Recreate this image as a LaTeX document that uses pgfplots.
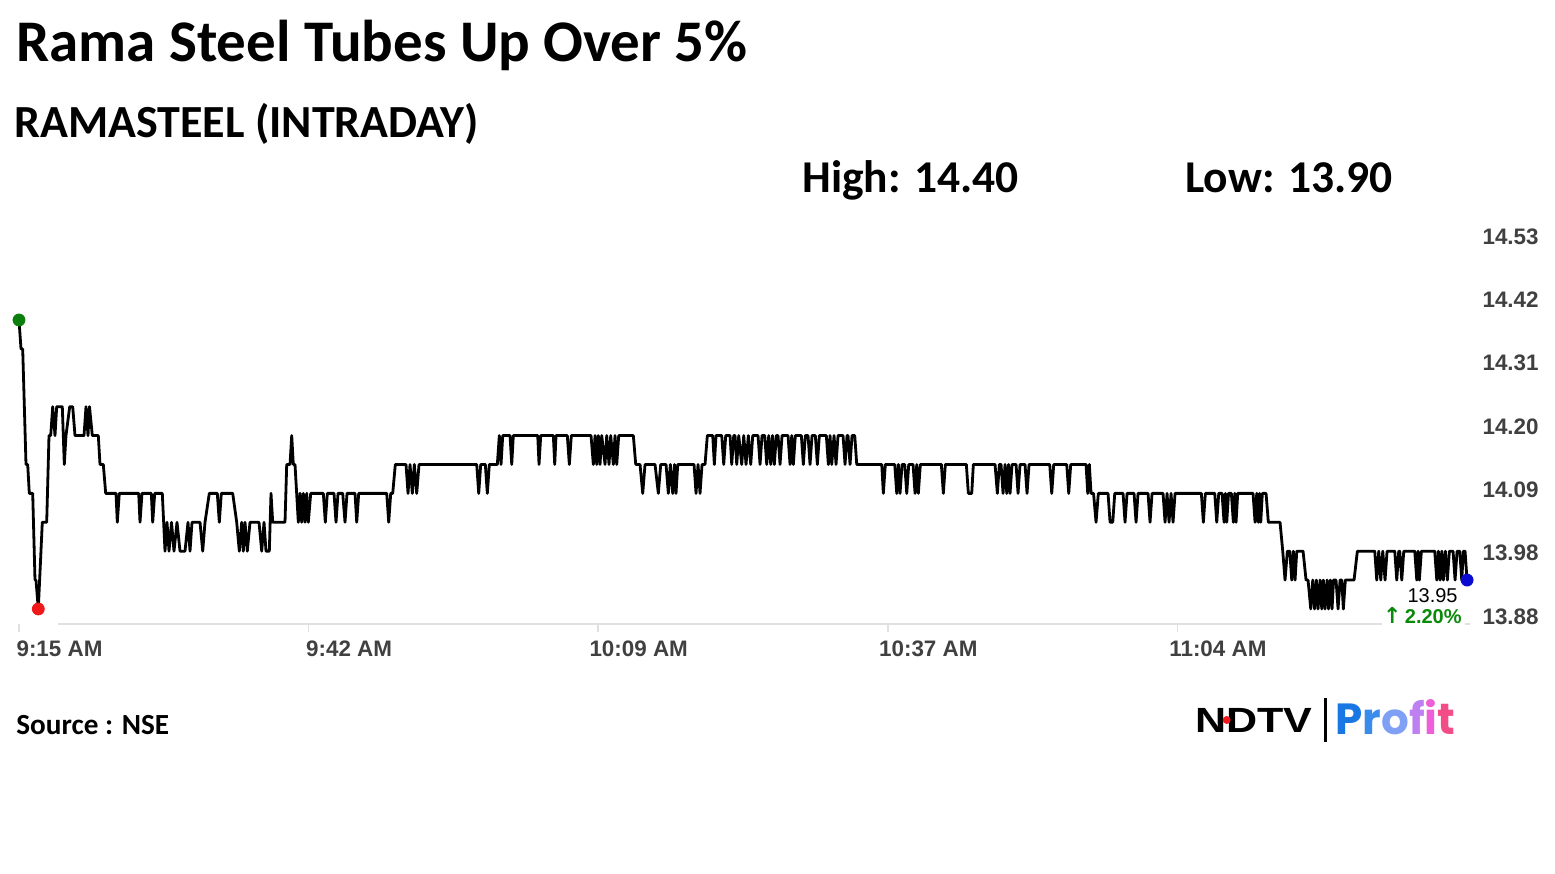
\documentclass[border=0pt]{standalone}
\usepackage{pgfplots}
\pgfplotsset{compat=1.18}
\usepackage{pgfplotstable}
\usepackage{fontspec}
\setmainfont{Carlito}
\newfontfamily\arialf{Liberation Sans}
\newfontfamily\dejaf{DejaVu Sans}
\newfontfamily\popf{Poppins}
\definecolor{tickgray}{HTML}{404040}
\definecolor{axisgray}{HTML}{E0E0E0}
\definecolor{upgreen}{HTML}{0A8A0A}
\definecolor{dotgreen}{HTML}{0B7F0B}
\definecolor{dotred}{HTML}{F01818}
\definecolor{dotblue}{HTML}{0A0AD0}
\definecolor{pA}{HTML}{1877E3}
\definecolor{pB}{HTML}{3A8CEB}
\definecolor{pC}{HTML}{7FA0F5}
\definecolor{pD}{HTML}{BE80F0}
\definecolor{pE}{HTML}{EE5ED8}
\definecolor{pF}{HTML}{F24D86}

% px = horizontal position of the sample on the original time scale (19 = 9:15 AM, 10.627 px per minute)
\pgfplotstableread{
px price
19 14.40
21 14.35
22.7 14.35
26 14.15
27.7 14.15
29.3 14.10
32.7 14.10
35 13.95
36 13.95
38.3 13.90
42.3 14.05
46.7 14.05
49 14.20
50.7 14.20
52.7 14.25
55 14.20
56.7 14.25
62.3 14.25
64.3 14.15
66 14.20
69.7 14.25
72.7 14.25
75 14.20
84 14.20
86 14.25
88 14.20
89.5 14.25
92.3 14.20
98.3 14.20
100 14.15
103.3 14.15
105.7 14.10
116 14.10
117.3 14.05
119.3 14.10
138.7 14.10
140 14.05
142 14.10
151.3 14.10
152.7 14.05
154.7 14.10
162.3 14.10
165 14.00
167 14.05
169 14.00
171.5 14.05
174 14.00
177 14.05
180 14.00
185 14.00
188 14.05
190 14.00
192 14.05
200 14.05
202.7 14.00
205 14.05
209.3 14.10
217.3 14.10
219.3 14.05
221.3 14.10
232.7 14.10
236.7 14.05
239.3 14.00
241.7 14.05
243.3 14.00
245 14.05
247.3 14.00
250 14.05
259 14.05
261.7 14.00
264 14.05
266 14.00
269.3 14.00
271 14.10
272.7 14.05
285 14.05
286.7 14.15
290 14.15
291.7 14.20
293.3 14.15
295 14.15
298.3 14.05
300 14.10
301.7 14.05
303.3 14.10
305 14.05
306.7 14.10
308.3 14.05
310.7 14.10
323.3 14.10
325.3 14.05
327.3 14.10
334 14.10
336 14.05
338 14.10
342.7 14.10
345 14.05
347 14.10
355 14.10
356.7 14.05
358.7 14.10
386.7 14.10
388.7 14.05
390.7 14.10
392.7 14.10
395.3 14.15
406 14.15
408 14.10
410 14.15
412.3 14.10
414.3 14.15
416.7 14.10
419 14.15
476.7 14.15
478.7 14.10
480.7 14.15
485.3 14.15
487.3 14.10
489.3 14.15
497.3 14.15
499.3 14.20
501 14.15
502.7 14.20
510 14.20
511.7 14.15
513.3 14.20
537.7 14.20
539 14.15
540.7 14.20
553.3 14.20
554.7 14.15
556 14.20
567.3 14.20
569.3 14.15
571.3 14.20
591 14.20
593.3 14.15
595 14.20
596.7 14.15
598.3 14.20
600 14.15
601.7 14.20
605 14.15
606.7 14.20
609 14.15
610.7 14.20
613.3 14.15
615 14.20
616.7 14.15
618.7 14.20
633.3 14.20
635.7 14.15
640 14.15
642.7 14.10
645 14.15
655 14.15
658.3 14.10
660.7 14.15
666 14.15
668.3 14.10
670.3 14.15
672.7 14.10
674.5 14.15
676 14.10
677.7 14.15
694 14.15
696 14.10
698 14.15
700 14.10
702 14.15
705 14.15
707.3 14.20
712.7 14.20
714.3 14.15
716 14.20
721.7 14.20
723.7 14.15
725.7 14.20
730 14.20
731.7 14.15
733.7 14.20
735 14.20
736.7 14.15
738.7 14.20
741.7 14.15
743.7 14.20
746 14.15
748.3 14.20
750.7 14.15
752.7 14.20
758 14.20
760 14.15
762 14.20
764.7 14.20
766.7 14.15
768.7 14.20
770.7 14.15
772.5 14.20
774.3 14.15
776.3 14.20
778 14.20
780 14.15
782 14.20
788 14.20
790 14.15
791.7 14.20
793.3 14.15
795.3 14.20
801.3 14.20
803.3 14.15
805.3 14.20
808 14.20
810 14.15
812 14.20
815.3 14.20
817.3 14.15
819.3 14.20
826.3 14.20
828.3 14.15
830 14.20
831.7 14.15
834 14.20
836 14.15
838 14.20
843 14.20
845 14.15
847 14.20
848 14.20
850 14.15
852 14.20
854.7 14.20
856.7 14.15
881.7 14.15
883.3 14.10
885.3 14.15
894.7 14.15
896.7 14.10
898.3 14.15
900 14.10
902 14.15
904.7 14.15
906.7 14.10
908.7 14.15
913 14.15
915 14.10
916.7 14.15
918.3 14.10
920.3 14.15
941.3 14.15
943.3 14.10
945.3 14.15
966.3 14.15
968.3 14.10
971.7 14.10
973.3 14.15
995 14.15
997.3 14.10
999.3 14.15
1001 14.15
1003 14.10
1005 14.15
1006.7 14.10
1008.5 14.15
1010 14.10
1012 14.15
1016 14.15
1018 14.10
1020 14.15
1025 14.15
1027 14.10
1029 14.15
1049.7 14.15
1051.7 14.10
1053.7 14.15
1066.7 14.15
1068.7 14.10
1070.7 14.15
1086 14.15
1087.7 14.10
1089.3 14.15
1091 14.10
1093.5 14.10
1096 14.05
1098.3 14.10
1108 14.10
1110 14.05
1112.7 14.05
1114.7 14.10
1123 14.10
1125 14.05
1127 14.10
1134 14.10
1136 14.05
1138 14.10
1148 14.10
1150 14.05
1152 14.10
1163 14.10
1165 14.05
1167 14.10
1169 14.05
1171 14.10
1173 14.05
1175 14.10
1201.3 14.10
1203.3 14.05
1205.3 14.10
1214.7 14.10
1216.7 14.05
1218.7 14.10
1222 14.10
1224 14.05
1225.3 14.10
1226.7 14.05
1228.5 14.10
1231.3 14.10
1233.3 14.05
1234.7 14.10
1236 14.05
1237.7 14.10
1253 14.10
1255 14.05
1256.7 14.10
1258.3 14.05
1259.5 14.10
1260.7 14.05
1262.3 14.10
1266 14.10
1268.3 14.05
1280 14.05
1282.7 14.00
1285 13.95
1287.3 14.00
1289.7 14.00
1291.7 13.95
1293.3 14.00
1295 13.95
1296.7 14.00
1303 14.00
1306 13.95
1308 13.95
1310.7 13.90
1312.7 13.95
1314.5 13.90
1316.3 13.95
1318 13.90
1320 13.95
1321.7 13.90
1323.3 13.95
1325 13.90
1327 13.95
1328.5 13.90
1330.3 13.95
1332 13.90
1333.5 13.95
1336 13.95
1338 13.90
1340 13.95
1341.7 13.95
1343.3 13.90
1345.3 13.95
1354 13.95
1357.3 14.00
1374.7 14.00
1376.7 13.95
1378.7 14.00
1380.7 13.95
1382.7 14.00
1385 13.95
1387 14.00
1394.7 14.00
1396.7 13.95
1398.7 14.00
1399.7 14.00
1401.7 13.95
1403.7 14.00
1414.7 14.00
1416.7 13.95
1418 14.00
1419.3 13.95
1421.3 14.00
1434.7 14.00
1436.7 13.95
1438.3 14.00
1440 13.95
1441.7 14.00
1443.3 13.95
1445.3 14.00
1447.3 13.95
1449.3 14.00
1453 14.00
1455 13.95
1457 14.00
1459.7 14.00
1461.7 13.95
1463.3 14.00
1465 14.00
1467 13.95
}\pricedata

\begin{document}
\begin{tikzpicture}
\useasboundingbox (0,0) rectangle (777.5pt,437pt);
\begin{scope}[x=0.5pt,y=0.5pt]
\node[anchor=base west,inner sep=0pt,font=\fontsize{29.5}{32}\selectfont\bfseries] at (16,812) {Rama Steel Tubes Up Over 5\%};
\node[anchor=base west,inner sep=0pt,font=\fontsize{23}{26}\selectfont\bfseries] at (14,736) {RAMASTEEL (INTRADAY)};
\node[anchor=base west,inner sep=0pt,font=\fontsize{22.75}{26}\selectfont\bfseries] at (802,681) {High: 14.40};
\node[anchor=base west,inner sep=0pt,font=\fontsize{22.75}{26}\selectfont\bfseries] at (1185,681) {Low: 13.90};
\node[anchor=base west,inner sep=0pt,font=\fontsize{14.6}{17}\selectfont\bfseries] at (16,139) {Source : NSE};
% logo
\node[anchor=base west,inner sep=0pt,xscale=1.23,font=\arialf\fontsize{17.5}{20}\selectfont\bfseries] at (1195,141) {NDTV};
\fill[dotred] (1226.7,154) circle (4);
\draw[black,line width=1.5pt] (1325,176) -- (1325,132);
\node[anchor=base west,inner sep=0pt,font=\popf\fontsize{21.8}{24}\selectfont\bfseries] at (1335,139)
  {\textcolor{pA}{P}\textcolor{pB}{r}\textcolor{pC}{o}\textcolor{pD}{f}\textcolor{pE}{i}\textcolor{pF}{t}};
% last value annotation
\node[anchor=base east,inner sep=0pt,font=\arialf\fontsize{10}{12}\selectfont] at (1458,271) {13.95};
\node[anchor=base east,inner sep=0pt,font=\arialf\fontsize{10}{12}\selectfont\bfseries,text=upgreen] at (1462,250) {{\dejaf\bfseries\fontsize{11}{12}\selectfont ↑}\,2.20\%};
\end{scope}

\begin{axis}[
  at={(9.5pt,125pt)}, anchor=south west,
  scale only axis, width=724pt, height=198.25pt,
  xmin=0, xmax=136.25, ymin=13.874, ymax=14.56,
  clip=false,
  axis line style={draw=none},
  xtick={0,27.25,54.5,81.75,109},
  xticklabels={9:15 AM,9:42 AM,10:09 AM,10:37 AM,11:04 AM},
  xtick pos=left, tick align=outside,
  xtick style={draw=axisgray, line width=0.8pt},
  major tick length=4pt,
  xticklabel style={anchor=north, inner sep=0pt, xshift=20.25pt, yshift=-4pt,
     font=\arialf\fontsize{11.2}{13}\selectfont\bfseries, text=tickgray},
  ytick={13.8862,13.9969,14.1059,14.2149,14.3256,14.4346,14.5436},
  yticklabels={13.88,13.98,14.09,14.20,14.31,14.42,14.53},
  yticklabel pos=right,
  ytick style={draw=none},
  yticklabel style={anchor=east, inner sep=0pt, xshift=32pt,
     font=\arialf\fontsize{11.2}{13}\selectfont\bfseries, text=tickgray},
]
\draw[axisgray, line width=1pt] (axis cs:3.67,13.874) -- (axis cs:128.26,13.874);
\draw[axisgray, line width=1pt] (axis cs:136.07,13.874) -- (axis cs:136.5,13.874);
\addplot[black, line width=1.4pt, line join=round, mark=none]
  table[x expr={(\thisrow{px}-19)/10.627}, y=price] {\pricedata};
\addplot[only marks, mark=*, mark size=3pt, dotgreen] coordinates {(0,14.40)};
\addplot[only marks, mark=*, mark size=3pt, dotred] coordinates {(1.816,13.90)};
\addplot[only marks, mark=*, mark size=3pt, dotblue] coordinates {(136.26,13.95)};
\end{axis}
\end{tikzpicture}
\end{document}
